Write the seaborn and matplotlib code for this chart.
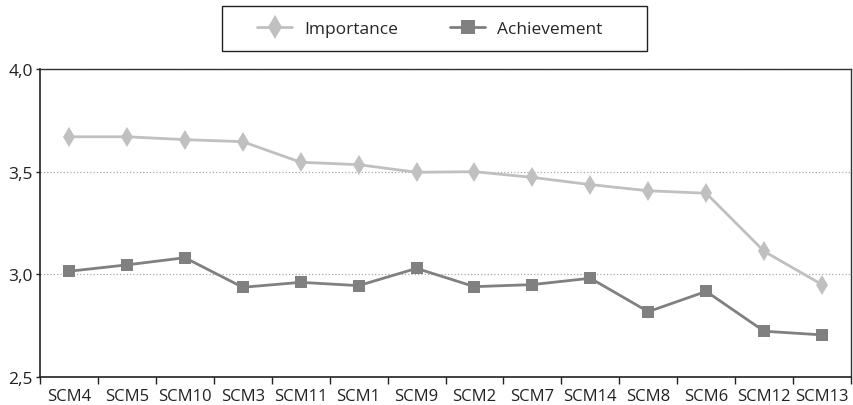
import pandas as pd
import matplotlib.pyplot as plt
from matplotlib.patches import Rectangle
import seaborn as sns

# Values
categories = ['SCM4', 'SCM5', 'SCM10', 'SCM3', 'SCM11', 'SCM1', 'SCM9',
              'SCM2', 'SCM7', 'SCM14', 'SCM8', 'SCM6', 'SCM12', 'SCM13']
importance = [3.67, 3.67, 3.656, 3.646, 3.546, 3.534, 3.497,
              3.50, 3.472, 3.437, 3.407, 3.395, 3.112, 2.950]
achievement = [3.015, 3.046, 3.081, 2.937, 2.961, 2.945, 3.029,
               2.940, 2.950, 2.981, 2.818, 2.917, 2.723, 2.705]
y_ticks = [2.5, 3.0, 3.5, 4.0]
y_labels = ['2,5', '3,0', '3,5', '4,0']

df = pd.DataFrame({'SCM': categories, 'Importance': importance,
                   'Achievement': achievement})

sns.set_style('white')
plt.rcParams['font.family'] = ['Open Sans', 'DejaVu Sans']

W, H = 854, 406
fig = plt.figure(figsize=(W / 100, H / 100), dpi=100)
ax = fig.add_axes([40 / W, 1 - 378 / H, 811 / W, 308 / H])

sns.lineplot(data=df, x='SCM', y='Importance', ax=ax, sort=False,
             color='#c0c0c0', marker='d', markersize=10, markeredgewidth=0,
             linewidth=2, label='Importance')
sns.lineplot(data=df, x='SCM', y='Achievement', ax=ax, sort=False,
             color='#808080', marker='s', markersize=8.5, markeredgewidth=0,
             linewidth=2, label='Achievement')

ax.set_xlim(-0.5, len(categories) - 0.5)
ax.set_ylim(2.5, 4.0)
ax.set_yticks(y_ticks)
ax.set_yticklabels(y_labels, fontsize=12.5, color='#222222')
ax.set_xticks(range(len(categories)))
ax.set_xticklabels(categories, fontsize=12, color='#222222')
ax.set_xticks([i - 0.5 for i in range(len(categories) + 1)], minor=True)
ax.tick_params(axis='x', which='major', length=0, pad=8)
ax.tick_params(axis='x', which='minor', length=5, width=1, color='#222222',
               direction='out', bottom=True)
ax.tick_params(axis='y', length=3, width=1, color='#222222', direction='out',
               left=True, pad=2)
ax.set_xlabel('')
ax.set_ylabel('')

ax.yaxis.grid(True, linestyle=':', color='#aaaaaa', linewidth=0.9)
ax.set_axisbelow(True)
for side in ['left', 'bottom']:
    ax.spines[side].set_color('#222222')
    ax.spines[side].set_linewidth(1.2)
for side in ['top', 'right']:
    ax.spines[side].set_color('#333333')
    ax.spines[side].set_linewidth(1)

# legend without its own frame, boxed by a rectangle like the reference
ax.get_legend().remove()
handles, labels = ax.get_legend_handles_labels()
fig.legend(handles, labels, loc='center', bbox_to_anchor=(430 / W, 1 - 30 / H),
           ncol=2, frameon=False, fontsize=12.5, handlelength=2.0,
           handletextpad=0.7, columnspacing=3.0, borderpad=0, borderaxespad=0,
           markerscale=1.2)
fig.patches.append(Rectangle((222 / W, 1 - 52 / H), 425 / W, 45 / H,
                             transform=fig.transFigure, fill=False,
                             edgecolor='#222222', linewidth=1))

fig.savefig('out.png', dpi=100)
